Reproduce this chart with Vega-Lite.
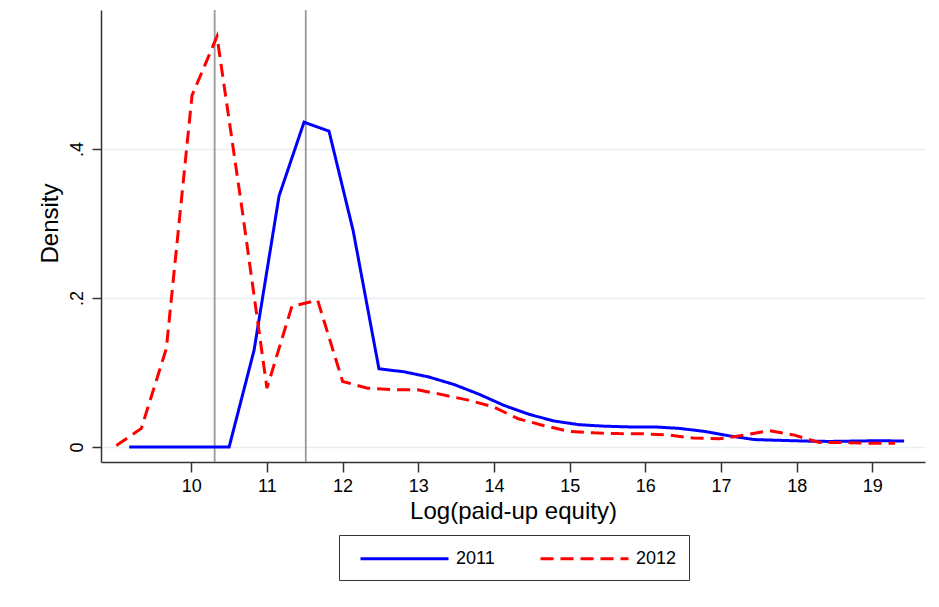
{
  "$schema": "https://vega.github.io/schema/vega-lite/v6.json",
  "autosize": "none",
  "width": 824,
  "height": 452,
  "padding": {"left": 101, "top": 10, "right": 14, "bottom": 145},
  "background": "white",
  "config": {
    "view": {"stroke": null},
    "font": "Liberation Sans",
    "axis": {
      "domainColor": "#333333",
      "domainWidth": 1.5,
      "tickColor": "#333333",
      "tickWidth": 1.5,
      "labelColor": "black",
      "titleColor": "black",
      "labelFont": "Liberation Sans",
      "titleFont": "Liberation Sans",
      "labelFontSize": 18,
      "titleFontSize": 24,
      "titleFontWeight": "normal"
    },
    "legend": {
      "labelFont": "Liberation Sans",
      "labelFontSize": 18,
      "labelColor": "black"
    }
  },
  "layer": [
    {
      "data": {"values": [{"ref": 10.309}, {"ref": 11.513}]},
      "mark": {"type": "rule", "color": "#999999", "strokeWidth": 1.8},
      "encoding": {
        "x": {"field": "ref", "type": "quantitative", "scale": {"domain": [8.807, 19.696], "nice": false, "zero": false}}
      }
    },
    {
      "data": {
        "values": [
          {"year": "2011", "x": 9.18, "density": 0},
          {"year": "2011", "x": 9.51, "density": 0},
          {"year": "2011", "x": 9.84, "density": 0},
          {"year": "2011", "x": 10.17, "density": 0},
          {"year": "2011", "x": 10.50, "density": 0},
          {"year": "2011", "x": 10.83, "density": 0.13},
          {"year": "2011", "x": 11.16, "density": 0.337},
          {"year": "2011", "x": 11.49, "density": 0.436},
          {"year": "2011", "x": 11.82, "density": 0.424},
          {"year": "2011", "x": 12.14, "density": 0.29},
          {"year": "2011", "x": 12.48, "density": 0.105},
          {"year": "2011", "x": 12.81, "density": 0.101},
          {"year": "2011", "x": 13.14, "density": 0.094},
          {"year": "2011", "x": 13.47, "density": 0.084},
          {"year": "2011", "x": 13.80, "density": 0.071},
          {"year": "2011", "x": 14.13, "density": 0.056},
          {"year": "2011", "x": 14.46, "density": 0.044},
          {"year": "2011", "x": 14.79, "density": 0.035},
          {"year": "2011", "x": 15.12, "density": 0.030},
          {"year": "2011", "x": 15.45, "density": 0.028},
          {"year": "2011", "x": 15.79, "density": 0.027},
          {"year": "2011", "x": 16.12, "density": 0.027},
          {"year": "2011", "x": 16.45, "density": 0.025},
          {"year": "2011", "x": 16.78, "density": 0.021},
          {"year": "2011", "x": 17.11, "density": 0.015},
          {"year": "2011", "x": 17.44, "density": 0.010},
          {"year": "2011", "x": 17.77, "density": 0.009},
          {"year": "2011", "x": 18.10, "density": 0.008},
          {"year": "2011", "x": 18.43, "density": 0.0075},
          {"year": "2011", "x": 18.76, "density": 0.008},
          {"year": "2011", "x": 19.09, "density": 0.0085},
          {"year": "2011", "x": 19.42, "density": 0.008},
          {"year": "2012", "x": 9.01, "density": 0.002},
          {"year": "2012", "x": 9.34, "density": 0.025},
          {"year": "2012", "x": 9.67, "density": 0.132},
          {"year": "2012", "x": 10.01, "density": 0.472},
          {"year": "2012", "x": 10.34, "density": 0.551},
          {"year": "2012", "x": 10.67, "density": 0.32},
          {"year": "2012", "x": 11.00, "density": 0.079},
          {"year": "2012", "x": 11.33, "density": 0.189},
          {"year": "2012", "x": 11.67, "density": 0.197},
          {"year": "2012", "x": 12.00, "density": 0.088},
          {"year": "2012", "x": 12.33, "density": 0.079},
          {"year": "2012", "x": 12.66, "density": 0.077},
          {"year": "2012", "x": 12.99, "density": 0.077},
          {"year": "2012", "x": 13.33, "density": 0.070},
          {"year": "2012", "x": 13.66, "density": 0.063},
          {"year": "2012", "x": 13.99, "density": 0.054},
          {"year": "2012", "x": 14.32, "density": 0.038},
          {"year": "2012", "x": 14.65, "density": 0.029},
          {"year": "2012", "x": 14.99, "density": 0.021},
          {"year": "2012", "x": 15.32, "density": 0.019},
          {"year": "2012", "x": 15.65, "density": 0.018},
          {"year": "2012", "x": 15.98, "density": 0.0178},
          {"year": "2012", "x": 16.31, "density": 0.016},
          {"year": "2012", "x": 16.64, "density": 0.012},
          {"year": "2012", "x": 16.98, "density": 0.011},
          {"year": "2012", "x": 17.31, "density": 0.016},
          {"year": "2012", "x": 17.64, "density": 0.022},
          {"year": "2012", "x": 17.97, "density": 0.016},
          {"year": "2012", "x": 18.30, "density": 0.006},
          {"year": "2012", "x": 18.63, "density": 0.006},
          {"year": "2012", "x": 18.97, "density": 0.005},
          {"year": "2012", "x": 19.30, "density": 0.005}
        ]
      },
      "mark": {"type": "line", "strokeWidth": 3},
      "encoding": {
        "x": {
          "field": "x", "type": "quantitative",
          "scale": {"domain": [8.807, 19.696], "nice": false, "zero": false},
          "axis": {
            "title": "Log(paid-up equity)",
            "values": [10, 11, 12, 13, 14, 15, 16, 17, 18, 19],
            "format": "d",
            "grid": false,
            "tickSize": 10,
            "labelPadding": 5,
            "titlePadding": 4
          }
        },
        "y": {
          "field": "density", "type": "quantitative",
          "scale": {"domain": [-0.0201, 0.5866], "nice": false, "zero": false},
          "axis": {
            "title": "Density",
            "values": [0, 0.2, 0.4],
            "labelExpr": "datum.value == 0 ? '0' : datum.value < 0.3 ? '.2' : '.4'",
            "labelAngle": -90,
            "grid": true,
            "gridColor": "#e6eff2",
            "gridWidth": 1.5,
            "tickSize": 9,
            "labelPadding": 6,
            "titlePadding": 6,
            "titleY": 213
          }
        },
        "color": {
          "field": "year", "type": "nominal",
          "scale": {"domain": ["2011", "2012"], "range": ["#0000ff", "#ff0000"]},
          "legend": {
            "title": null,
            "orient": "none",
            "legendX": 238,
            "legendY": 525,
            "direction": "horizontal",
            "symbolType": "M-4.4,0H4.4",
            "symbolSize": 400,
            "symbolStrokeWidth": 3,
            "labelOffset": 40,
            "columnPadding": 36,
            "padding": 12,
            "symbolOffset": 42,
            "strokeColor": "#333333"
          }
        },
        "strokeDash": {
          "field": "year", "type": "nominal",
          "scale": {"domain": ["2011", "2012"], "range": [[1, 0], [13, 7]]},
          "legend": {
            "title": null,
            "orient": "none",
            "legendX": 238,
            "legendY": 525,
            "direction": "horizontal",
            "symbolType": "M-4.4,0H4.4",
            "symbolSize": 400,
            "symbolStrokeWidth": 3,
            "labelOffset": 40,
            "columnPadding": 36,
            "padding": 12,
            "symbolOffset": 42,
            "strokeColor": "#333333"
          }
        }
      }
    }
  ]
}
